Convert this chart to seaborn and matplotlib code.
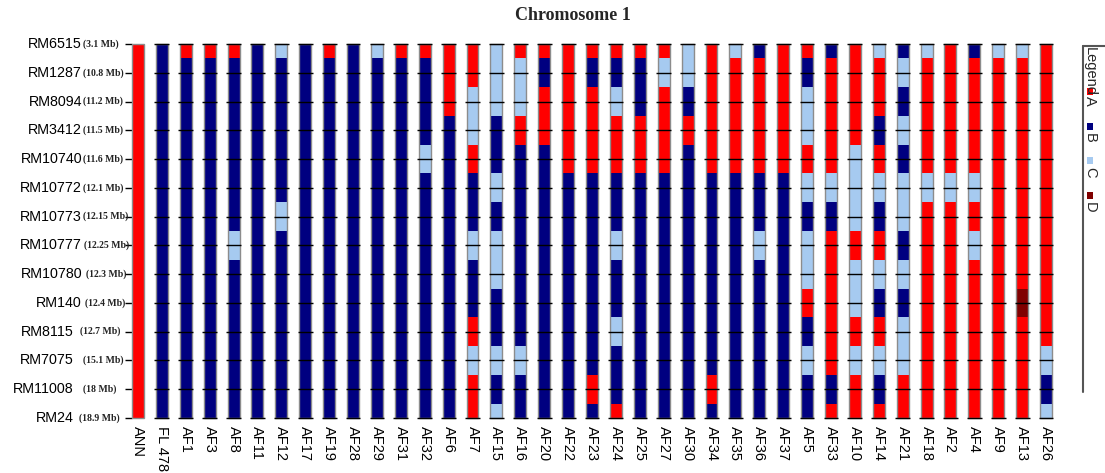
import numpy as np
import pandas as pd
import matplotlib
matplotlib.use("Agg")
import matplotlib.pyplot as plt
import matplotlib.transforms as mtransforms
from matplotlib.colors import ListedColormap
from matplotlib.patches import Rectangle
from matplotlib.lines import Line2D
import seaborn as sns

# Markers on chromosome 1 with their physical positions
markers = ["RM6515", "RM1287", "RM8094", "RM3412", "RM10740", "RM10772", "RM10773",
           "RM10777", "RM10780", "RM140", "RM8115", "RM7075", "RM11008", "RM24"]
marker_mb = ["(3.1 Mb)", "(10.8 Mb)", "(11.2 Mb)", "(11.5 Mb)", "(11.6 Mb)", "(12.1 Mb)",
             "(12.15 Mb)", "(12.25 Mb)", "(12.3 Mb)", "(12.4 Mb)", "(12.7 Mb)",
             "(15.1 Mb)", "(18 Mb)", "(18.9 Mb)"]

# Lines (parents first), each with one genotype call per marker, top to bottom
samples = ["ANN", "FL 478", "AF1", "AF3", "AF8", "AF11", "AF12", "AF17", "AF19", "AF28",
           "AF29", "AF31", "AF32", "AF6", "AF7", "AF15", "AF16", "AF20", "AF22", "AF23",
           "AF24", "AF25", "AF27", "AF30", "AF34", "AF35", "AF36", "AF37", "AF5", "AF33",
           "AF10", "AF14", "AF21", "AF18", "AF2", "AF4", "AF9", "AF13", "AF26"]
genotypes = [
    "AAAAAAAAAAAAAA", "BBBBBBBBBBBBBB", "ABBBBBBBBBBBBB", "ABBBBBBBBBBBBB",
    "ABBBBBBCBBBBBB", "BBBBBBBBBBBBBB", "CBBBBBCBBBBBBB", "BBBBBBBBBBBBBB",
    "ABBBBBBBBBBBBB", "BBBBBBBBBBBBBB", "CBBBBBBBBBBBBB", "ABBBBBBBBBBBBB",
    "ABBBCBBBBBBBBB", "AAABBBBBBBBBBB", "AACCABBCBBACAA", "CCCBBCBCCBBCBC",
    "ACCABBBBBBBCBB", "ABAABBBBBBBBBB", "AAAAABBBBBBBBB", "ABAAABBBBBBBAB",
    "ABCAABBCBBCBBA", "ABBAABBBBBBBBB", "ACAAABBBBBBBBB", "CCBABBBBBBBBBB",
    "AAAAABBBBBBBAB", "CAAAABBBBBBBBB", "BAAAABBCBBBBBB", "AAAAABBBBBBBBB",
    "ABCCACBCCABCBB", "BAAAACBAAAAABA", "AAAACCCACCACAA", "CAABACBACBACBA",
    "BCBCBCCBCBCCAA", "CAAAACAAAAAAAA", "AAAAACAAAAAAAA", "BAAAACACAAAAAA",
    "CAAAAAAAAAAAAA", "CAAAAAAAADAAAA", "AAAAAAAAAAACBC",
]
classes = ["A", "B", "C", "D"]
class_colors = ["#ff0000", "#000080", "#a6caf0", "#800000"]

W, H = 1105, 473
sns.set_style("white")
plt.rcParams["font.family"] = ["Liberation Sans", "DejaVu Sans"]

# Genotype grid: one column per line, blank columns in between for spacing
n_m, n_s = len(markers), len(samples)
code = {c: i for i, c in enumerate(classes)}
grid = np.full((n_m, 2 * n_s - 1), np.nan)
for j, g in enumerate(genotypes):
    grid[:, 2 * j] = [code[c] for c in g]
df = pd.DataFrame(grid, index=markers)

fig = plt.figure(figsize=(W / 100, H / 100), dpi=100)
ax = fig.add_axes([132 / W, 1 - 418 / H, 920 / W, 374 / H])
sns.heatmap(df, cmap=ListedColormap(class_colors), vmin=-0.5, vmax=len(classes) - 0.5,
            cbar=False, ax=ax, xticklabels=False, yticklabels=False)
ax.set_xlim(0, grid.shape[1])
ax.set_ylim(n_m - 0.5, 0.5)
for s in ax.spines.values():
    s.set_visible(False)

# Bar outlines and marker lines across each bar
ypos = np.arange(n_m) + 0.5
for j in range(n_s):
    x0 = 2 * j
    ax.add_patch(Rectangle((x0, 0.5), 1, n_m - 1, fill=False, ec="#8c8c8c", lw=1.0,
                           clip_on=False, zorder=3))
    if j > 0:
        ax.hlines(ypos, x0 - 0.12, x0 + 1.12, colors="black", lw=1.0, zorder=4,
                  clip_on=False)

# Axis ticks
ax.set_yticks(ypos)
ax.set_yticklabels([])
ax.tick_params(axis="y", left=True, length=5, width=1.0, color="black", direction="out")
ax.set_xticks(2 * np.arange(n_s) + 0.5)
ax.set_xticklabels(samples, rotation=270, fontsize=10.5, color="black")
ax.tick_params(axis="x", bottom=False, length=0, pad=6)

# Marker names and positions on the left
tr = mtransforms.blended_transform_factory(fig.transFigure, ax.transData)
name_right = [82] * 10 + [74] * 4
mb_left = [83] * 7 + [84.5, 86, 85] + [80, 83, 83, 79]
for i in range(n_m):
    fig.text(name_right[i] / W, ypos[i], markers[i], transform=tr, ha="right",
             va="center", fontsize=10.3, color="black")
    fig.text(mb_left[i] / W, ypos[i], marker_mb[i], transform=tr, ha="left",
             va="center", fontsize=7.0, fontweight="bold",
             family="Liberation Serif", color="#222222")

fig.text(573 / W, 1 - 15 / H, "Chromosome 1", ha="center", va="center", fontsize=13,
         fontweight="bold", family="Liberation Serif")

# Legend panel, rotated on the right edge
def fx(px):
    return px / W

def fy(py):
    return 1 - py / H

fig.add_artist(Line2D([fx(1083), fx(1083)], [fy(46), fy(392)], color="#555555", lw=1.5))
fig.add_artist(Line2D([fx(1083), fx(1105)], [fy(46), fy(46)], color="#555555", lw=1.5))
fig.text(fx(1090), fy(47), "Legend", rotation=270, ha="center", va="top", fontsize=10.5)
sq_y = [88, 123, 157, 192]
lab_y = [96, 133, 167, 202]
for k, cls in enumerate(classes):
    fig.add_artist(Rectangle((fx(1086.5), fy(sq_y[k] + 7)), 6 / W, 7 / H,
                             transform=fig.transFigure, fc=class_colors[k], ec="none"))
    fig.text(fx(1090), fy(lab_y[k]), cls, rotation=270, ha="center", va="top",
             fontsize=10.5)

fig.savefig("out.png", dpi=100)
